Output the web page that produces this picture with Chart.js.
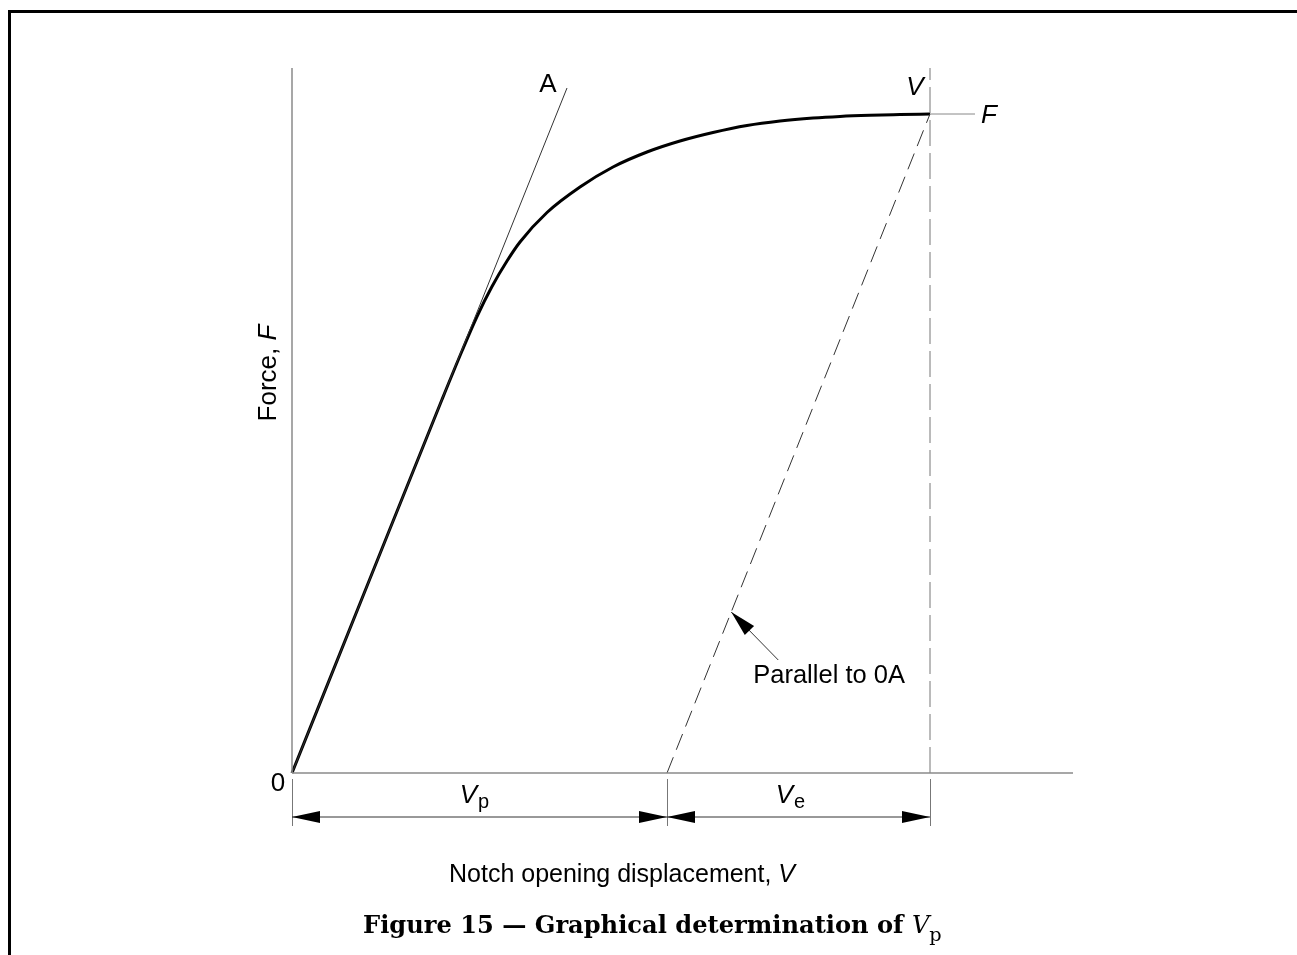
<!DOCTYPE html>
<html lang="en">
<head>
    <meta charset="UTF-8">
    <title>Figure 15 - Graphical determination of Vp</title>
    <script src="https://cdn.jsdelivr.net/npm/chart.js"></script>
    <style>
        body { margin: 0; background: #fff; }
        #frame { position: absolute; left: 8px; top: 10px; width: 1300px; height: 960px;
                 border-top: 3px solid #000; border-left: 3px solid #000; }
        #wrap { position: absolute; left: 0; top: 0; width: 1297px; height: 955px; }
    </style>
</head>
<body>
    <div id="frame"></div>
    <div id="wrap"><canvas id="figChart" width="1297" height="955"></canvas></div>

    <script>
        // schematic units (origin at 0)
        const axisMaxX = 781;
        const axisMaxY = 705;

        // force / displacement curve
        const curveX = [0, 75, 150, 170, 185, 200, 215, 228, 255, 288, 321, 355, 388, 421, 455, 488, 521, 548, 578, 608, 638];
        const curveY = [0, 187, 373.5, 422, 456.5, 486.5, 512, 531, 560.5, 586, 606, 621, 632, 640.5, 647.5, 652, 655, 656.6, 657.7, 658.4, 659];

        // tangent 0A and the line parallel to it
        const tangentX = [0, 275];
        const tangentY = [0, 685];
        const parallelX = [375, 638];
        const parallelY = [0, 659];

        // final point V / F
        const vEnd = 638;
        const fLevel = 659;
        const fLineEnd = 683;

        // dimension marks: 0, end of Vp, end of Ve
        const dimX = [0, 375, 638];

        const FONT = '"Liberation Sans", Arial, sans-serif';
        const SERIF = '"DejaVu Serif", "Liberation Serif", serif';

        function line(xs, ys, color, width, dash) {
            return {
                data: xs.map((x, i) => ({ x: x, y: ys[i] })),
                showLine: true,
                borderColor: color,
                borderWidth: width,
                borderDash: dash || [],
                pointRadius: 0,
                fill: false,
                clip: false
            };
        }

        function txt(ctx, s, x, y, font, align) {
            ctx.font = font;
            ctx.textAlign = align || 'left';
            ctx.textBaseline = 'alphabetic';
            ctx.fillText(s, x, y);
            return ctx.measureText(s).width;
        }

        function textWidth(ctx, s, font) {
            ctx.font = font;
            return ctx.measureText(s).width;
        }

        function arrowHead(ctx, tipX, tipY, dirX, dirY, len, half) {
            const n = Math.hypot(dirX, dirY);
            const ux = dirX / n, uy = dirY / n;
            const bx = tipX - ux * len, by = tipY - uy * len;
            ctx.beginPath();
            ctx.moveTo(tipX, tipY);
            ctx.lineTo(bx - uy * half, by + ux * half);
            ctx.lineTo(bx + uy * half, by - ux * half);
            ctx.closePath();
            ctx.fill();
        }

        // labels, dimension lines and leader drawn against the chart scales
        const annotations = {
            id: 'annotations',
            afterDraw(chart) {
                const ctx = chart.ctx;
                const xs = chart.scales.x, ys = chart.scales.y;
                const px = v => xs.getPixelForValue(v);
                const py = v => ys.getPixelForValue(v);
                const base = py(0);
                ctx.save();
                ctx.fillStyle = '#000';

                // extension lines
                ctx.strokeStyle = '#777';
                ctx.lineWidth = 1;
                dimX.forEach(v => {
                    ctx.beginPath();
                    ctx.moveTo(Math.round(px(v)) + 0.5, base + 6);
                    ctx.lineTo(Math.round(px(v)) + 0.5, base + 53);
                    ctx.stroke();
                });

                // dimension line with arrows
                const dy = base + 44;
                ctx.strokeStyle = '#333';
                ctx.beginPath();
                ctx.moveTo(px(dimX[0]), dy);
                ctx.lineTo(px(dimX[2]), dy);
                ctx.stroke();
                for (let i = 0; i < dimX.length - 1; i++) {
                    const a = px(dimX[i]), b = px(dimX[i + 1]);
                    arrowHead(ctx, a, dy, -1, 0, 28, 6);
                    arrowHead(ctx, b, dy, 1, 0, 28, 6);
                }

                // Vp, Ve
                const subLabel = (main, sub, cx) => {
                    const w1 = textWidth(ctx, main, 'italic 26px ' + FONT);
                    const w2 = textWidth(ctx, sub, '20px ' + FONT);
                    const left = cx - (w1 + w2 + 1) / 2;
                    txt(ctx, main, left, base + 30, 'italic 26px ' + FONT);
                    txt(ctx, sub, left + w1 + 1, base + 35, '20px ' + FONT);
                };
                subLabel('V', 'p', (px(dimX[0]) + px(dimX[1])) / 2 - 5);
                subLabel('V', 'e', (px(dimX[1]) + px(dimX[2])) / 2 - 8);

                // origin, A, V, F
                txt(ctx, '0', px(0) - 14, base + 18, '26px ' + FONT, 'center');
                txt(ctx, 'A', px(tangentX[1]) - 19, py(tangentY[1]) + 4, '26px ' + FONT, 'center');
                txt(ctx, 'V', px(vEnd) - 15, py(axisMaxY) + 27, 'italic 26px ' + FONT, 'center');
                txt(ctx, 'F', px(fLineEnd) + 6, py(fLevel) + 9, 'italic 26px ' + FONT, 'left');

                // leader "Parallel to 0A"
                const t = 161;
                const tipX = px(parallelX[0] + t * (parallelX[1] - parallelX[0]) / parallelY[1]);
                const tipY = py(t);
                const tailX = tipX + 47, tailY = tipY + 48;
                ctx.strokeStyle = '#333';
                ctx.beginPath();
                ctx.moveTo(tailX, tailY);
                ctx.lineTo(tipX, tipY);
                ctx.stroke();
                arrowHead(ctx, tipX, tipY, tipX - tailX, tipY - tailY, 26, 6.5);
                txt(ctx, 'Parallel to 0A', tailX - 25, tailY + 23, '25.5px ' + FONT, 'left');

                // y axis title
                ctx.save();
                ctx.translate(px(0) - 16, 373);
                ctx.rotate(-Math.PI / 2);
                const wf = textWidth(ctx, 'Force, ', '26px ' + FONT);
                const wF = textWidth(ctx, 'F', 'italic 26px ' + FONT);
                txt(ctx, 'Force, ', -(wf + wF) / 2, 0, '26px ' + FONT);
                txt(ctx, 'F', -(wf + wF) / 2 + wf, 0, 'italic 26px ' + FONT);
                ctx.restore();

                // x axis title
                const wn = textWidth(ctx, 'Notch opening displacement, ', '25px ' + FONT);
                const wv = textWidth(ctx, 'V', 'italic 25px ' + FONT);
                const nl = 622 - (wn + wv) / 2;
                txt(ctx, 'Notch opening displacement, ', nl, base + 109, '25px ' + FONT);
                txt(ctx, 'V', nl + wn, base + 109, 'italic 25px ' + FONT);

                // caption
                const capMain = 'Figure 15 \u2014 Graphical determination of ';
                let size = 26;
                let w = textWidth(ctx, capMain, 'bold ' + size + 'px ' + SERIF)
                      + textWidth(ctx, 'V', 'italic ' + size + 'px ' + SERIF)
                      + textWidth(ctx, 'p', size * 0.8 + 'px ' + SERIF);
                size = size * 579 / w;
                let cx = 363;
                const cy = base + 160;
                cx += txt(ctx, capMain, cx, cy, 'bold ' + size + 'px ' + SERIF);
                cx += txt(ctx, 'V', cx, cy, 'italic ' + size + 'px ' + SERIF);
                txt(ctx, 'p', cx, cy + 8, size * 0.8 + 'px ' + SERIF);

                ctx.restore();
            }
        };

        new Chart(document.getElementById('figChart'), {
            type: 'scatter',
            data: {
                datasets: [
                    line([0, axisMaxX], [0, 0], '#8a8a8a', 1.5),
                    line([0, 0], [0, axisMaxY], '#8a8a8a', 1.5),
                    line([vEnd, vEnd], [0, axisMaxY], '#777', 1, [26, 7]),
                    line([vEnd, fLineEnd], [fLevel, fLevel], '#888', 1),
                    line(tangentX, tangentY, '#333', 1),
                    line(parallelX, parallelY, '#333', 1, [17, 8]),
                    Object.assign(line(curveX, curveY, '#000', 3), { cubicInterpolationMode: 'monotone' })
                ]
            },
            options: {
                responsive: false,
                animation: false,
                layout: { padding: { left: 292, top: 68, right: 224, bottom: 182 } },
                plugins: { legend: { display: false }, tooltip: { enabled: false } },
                scales: {
                    x: { type: 'linear', display: false, min: 0, max: axisMaxX },
                    y: { type: 'linear', display: false, min: 0, max: axisMaxY }
                }
            },
            plugins: [annotations]
        });
    </script>
</body>
</html>
